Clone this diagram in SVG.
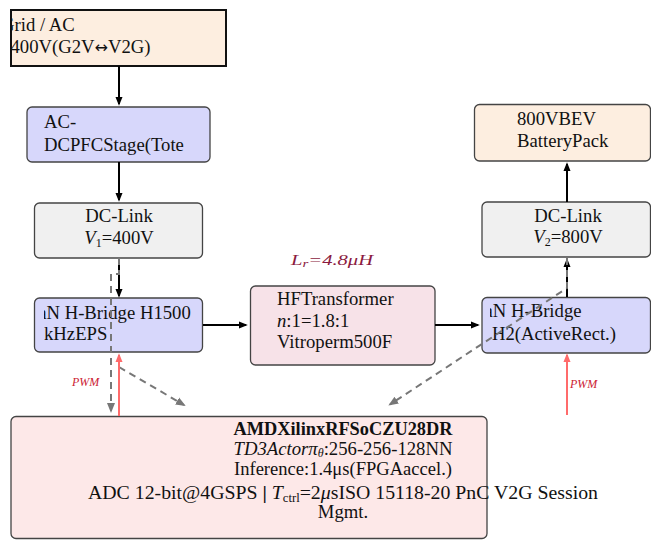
<svg xmlns="http://www.w3.org/2000/svg" width="651" height="540" viewBox="0 0 651 540">
<style>
text{font-family:"Liberation Serif","DejaVu Serif",serif;font-size:18.7px;fill:#111}
.box{stroke:#444;stroke-width:1.3}
.peach{fill:#fdeee0}
.lav{fill:#d7d7fb}
.gray{fill:#f0f0f0}
.pink{fill:#f7e2e8}
.ctrl{fill:#fde8e8}
.arr{stroke:#000;stroke-width:2;fill:none}
.dash{stroke:#777;stroke-width:2;fill:none;stroke-dasharray:7,5}
.pwm{stroke:#ff6b6b;stroke-width:2;fill:none}
.pwml{font-size:12px;font-style:italic;fill:#cc2233}
.it{font-style:italic}
.sub{font-size:12px}
.sym{font-family:"DejaVu Sans",sans-serif;font-size:16px}
</style>
<defs>
<marker id="ab" viewBox="0 0 10 10" refX="8" refY="5" markerWidth="9" markerHeight="9" markerUnits="userSpaceOnUse" orient="auto"><path d="M0,1 L10,5 L0,9 z" fill="#000"/></marker>
<marker id="ag" viewBox="0 0 10 10" refX="8" refY="5" markerWidth="10" markerHeight="10" markerUnits="userSpaceOnUse" orient="auto"><path d="M0,1 L10,5 L0,9 z" fill="#777"/></marker>
<marker id="ar" viewBox="0 0 10 10" refX="8" refY="5" markerWidth="9" markerHeight="9" markerUnits="userSpaceOnUse" orient="auto"><path d="M0,1 L10,5 L0,9 z" fill="#ff6b6b"/></marker>
<clipPath id="cGrid"><rect x="11" y="10" width="215" height="56"/></clipPath>
<clipPath id="cHB1"><rect x="44" y="297" width="159" height="55"/></clipPath>
<clipPath id="cHB2"><rect x="490" y="297" width="161" height="56"/></clipPath>
<clipPath id="cAC"><rect x="27" y="107" width="183" height="55"/></clipPath>
</defs>

<g id="grid">
<rect x="11" y="10" width="215" height="56" class="peach" stroke="#111" stroke-width="2"/>
<g clip-path="url(#cGrid)">
<text x="1" y="31">Grid / AC</text>
<text x="10.5" y="53">400V(G2V<tspan class="sym">↔</tspan>V2G)</text>
</g>
</g>

<g id="acdc">
<rect x="27" y="107" width="183" height="55" rx="5" class="box lav"/>
<g clip-path="url(#cAC)">
<text x="44" y="128">AC-</text>
<text x="44" y="151">DCPFCStage(Tote</text>
</g>
</g>

<g id="dclink1">
<rect x="34.5" y="203" width="168" height="55" rx="5" class="box gray"/>
<text x="119" y="222" text-anchor="middle">DC-Link</text>
<text x="119" y="244" text-anchor="middle"><tspan class="it">V</tspan><tspan class="sub" dy="3">1</tspan><tspan dy="-3">=400V</tspan></text>
</g>

<g id="hbridge1">
<rect x="34.5" y="298" width="168" height="54" rx="5" class="box lav"/>
<g clip-path="url(#cHB1)">
<text x="24.7" y="319">GaN H-Bridge H1500</text>
<text x="44" y="340">kHzEPS</text>
</g>
</g>

<g id="transformer">
<rect x="250.5" y="286" width="184.5" height="79" rx="5" class="box pink"/>
<text x="277" y="305">HFTransformer</text>
<text x="277" y="327"><tspan class="it">n</tspan>:1=1.8:1</text>
<text x="277" y="348">Vitroperm500F</text>
</g>

<g id="lr">
<text x="291" y="265" style="fill:#8b1a40;font-size:15px;font-style:italic" textLength="82" lengthAdjust="spacingAndGlyphs"><tspan>L</tspan><tspan style="font-size:11px" dy="2">r</tspan><tspan dy="-2">=4.8μH</tspan></text>
</g>

<g id="hbridge2">
<rect x="482" y="297.5" width="168.5" height="55.5" rx="5" class="box lav"/>
<g clip-path="url(#cHB2)">
<text x="471" y="317">GaN H-Bridge</text>
<text x="492" y="340">H2(ActiveRect.)</text>
</g>
</g>

<g id="dclink2">
<rect x="482" y="202" width="168.5" height="55" rx="5" class="box gray"/>
<text x="568" y="222" text-anchor="middle">DC-Link</text>
<text x="568" y="243" text-anchor="middle"><tspan class="it">V</tspan><tspan class="sub" dy="3">2</tspan><tspan dy="-3">=800V</tspan></text>
</g>

<g id="battery">
<rect x="474.5" y="104.5" width="176" height="56.5" rx="5" class="box peach"/>
<text x="517" y="125">800VBEV</text>
<text x="517" y="147">BatteryPack</text>
</g>

<g id="controller">
<rect x="11" y="416.5" width="476" height="122" rx="5" class="box ctrl"/>
<text x="343" y="435" text-anchor="middle" style="font-weight:bold" textLength="219" lengthAdjust="spacingAndGlyphs">AMDXilinxRFSoCZU28DR</text>
<text x="343" y="455" text-anchor="middle" textLength="219" lengthAdjust="spacingAndGlyphs"><tspan class="it">TD3Actorπ</tspan><tspan class="it sub" dy="2">θ</tspan><tspan dy="-2">:256-256-128NN</tspan></text>
<text x="343" y="474.5" text-anchor="middle" textLength="218" lengthAdjust="spacingAndGlyphs">Inference:1.4μs(FPGAaccel.)</text>
<text x="343" y="499" text-anchor="middle" textLength="510" lengthAdjust="spacingAndGlyphs">ADC 12-bit@4GSPS<tspan style="font-weight:bold"> | </tspan><tspan class="it">T</tspan><tspan class="sub" dy="3">ctrl</tspan><tspan dy="-3">=2</tspan><tspan class="it">μ</tspan>sISO 15118-20 PnC V2G Session</text>
<text x="343" y="518" text-anchor="middle">Mgmt.</text>
</g>

<g id="connectors">
<line x1="119" y1="66" x2="119" y2="104" class="arr" marker-end="url(#ab)"/>
<line x1="119" y1="162" x2="119" y2="200" class="arr" marker-end="url(#ab)"/>
<line x1="119" y1="258" x2="119" y2="296" class="arr" marker-end="url(#ab)"/>
<line x1="203" y1="325" x2="246" y2="325" class="arr" marker-end="url(#ab)"/>
<line x1="435" y1="325" x2="478" y2="325" class="arr" marker-end="url(#ab)"/>
<line x1="567" y1="297" x2="567" y2="260" class="arr" marker-end="url(#ab)"/>
<line x1="567" y1="202" x2="567" y2="164" class="arr" marker-end="url(#ab)"/>
<path d="M119,258 V274 H111 V411" class="dash" marker-end="url(#ag)"/>
<path d="M119,367 L184,405" class="dash" marker-end="url(#ag)"/>
<path d="M567,258 V288 L390,404.5" class="dash" marker-end="url(#ag)"/>
<line x1="119" y1="416" x2="119" y2="355" class="pwm" marker-end="url(#ar)"/>
<line x1="567" y1="415" x2="567" y2="355" class="pwm" marker-end="url(#ar)"/>
<text x="72" y="386" class="pwml">PWM</text>
<text x="570" y="388" class="pwml">PWM</text>
</g>
</svg>
